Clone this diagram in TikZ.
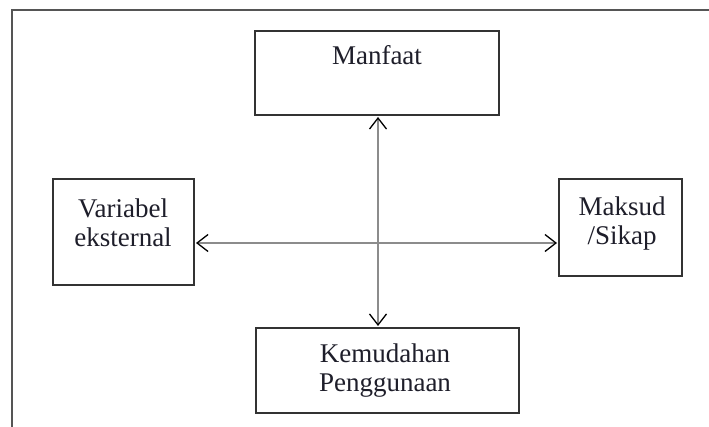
\documentclass[tikz,border=0pt]{standalone}
\usepackage{fontspec}
\setmainfont{Liberation Serif}
\usetikzlibrary{arrows.meta}
\definecolor{framegray}{HTML}{555555}
\definecolor{boxline}{HTML}{333333}
\definecolor{shaft}{HTML}{8C8C8C}
\definecolor{txt}{HTML}{1E1E2A}
\tikzset{
  box/.style={draw=boxline, line width=1.3pt, minimum width=#1, inner sep=0pt},
  lbl/.style={text=txt, font=\fontsize{27}{29}\selectfont, align=center, inner sep=0pt},
  link/.style={draw=shaft, line width=1.6pt, {Straight Barb[length=11pt,width=17pt,color=black,line width=1.3pt]}-{Straight Barb[length=11pt,width=17pt,color=black,line width=1.3pt]}}
}
\begin{document}
\begin{tikzpicture}[x=1pt,y=-1pt]
\useasboundingbox (0,0) rectangle (709,427);
\fill[white] (0,0) rectangle (709,427);
% outer frame (top and left edges only)
\coordinate (ftr) at (709,10);
\coordinate (ftl) at (12,10);
\coordinate (fbl) at (12,427);
\draw[framegray, line width=2pt] (ftr) -- (ftl) -- (fbl);
% boxes
\node[box=244pt, minimum height=84pt] (manfaat) at (377,73) {};
\node[box=141pt, minimum height=106pt] (var) at (123.5,232) {};
\node[box=123pt, minimum height=97pt] (maksud) at (620.5,227.5) {};
\node[box=263pt, minimum height=85pt] (kemud) at (387.5,370.5) {};
% labels
\node[lbl, anchor=base] (tman) at (377,65) {Manfaat};
\node[lbl] (tvar) at (123,223) {Variabel\\eksternal};
\node[lbl] (tmak) at (622,224) {Maksud\\/Sikap};
\node[lbl] (tkem) at (385,371) {Kemudahan\\Penggunaan};
% arrows
\coordinate (vtop) at (378,117);
\coordinate (vbot) at (378,326);
\coordinate (hl) at (196,243);
\coordinate (hr) at (557,243);
\draw[link] (vtop) -- (vbot);
\draw[link] (hl) -- (hr);
\end{tikzpicture}
\end{document}
